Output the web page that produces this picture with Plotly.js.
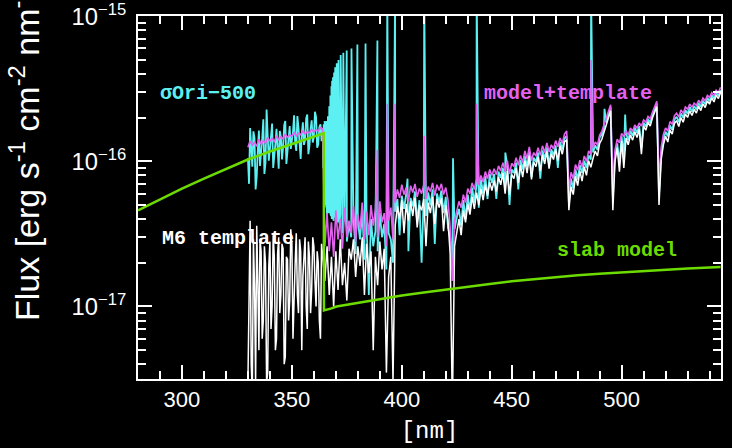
<!DOCTYPE html>
<html>
<head>
<meta charset="utf-8">
<script src="https://cdn.plot.ly/plotly-3.0.1.min.js"></script>
<style>html,body{margin:0;padding:0;background:#000;}#chart{width:732px;height:448px;}</style>
</head>
<body>
<div id="chart"></div>
<script>
// Flux values in units of 1e-17 erg s^-1 cm^-2 nm^-1
const fluxUnit = 1e-17;
// regular wavelength sampling (nm) of the spectra: 330 ... 545
const waveStart = 330;
const waveStep = 1;

// sigma Ori-500 observed spectrum (cyan)
const observed = [
  10.5, 17.0, 9.2, 14.5, 7.8, 16.3, 11.0, 19.5, 9.8, 15.0,
  12.1, 18.2, 10.6, 16.8, 8.9, 14.7, 12.5, 19.0, 11.3, 17.5,
  13.6, 20.8, 11.8, 17.1, 10.4, 18.6, 14.0, 21.0, 12.9, 19.2,
  14.8, 20.2, 13.1, 18.0, 16.5,
  5.0, 4.2, 24.0, 33.0, 3.9, 4.0, 4.0, 4.3, 3.2, 4.0, 2.8, 3.7,
  3.0, 4.2, 2.3, 3.9, 2.9, 4.6, 2.1, 3.6, 1.2, 4.0, 2.6, 3.3, 2.4, 4.4, 3.0, 3.7, 1.8, 3.2, 2.9, 2.0,
  4.5, 5.5, 3.1, 5.8, 4.7, 6.0, 2.4, 5.6, 4.9, 6.2, 3.8, 5.4, 2.0, 5.9, 4.2, 6.1, 5.0, 6.4, 2.7, 6.0, 5.2, 6.3, 4.4, 5.7, 3.5,
  3.0, 1.9, 3.4, 4.1, 4.7, 3.6, 5.4, 4.0, 5.9, 4.5, 6.6, 5.2, 6.9, 4.8, 7.5, 6.0, 7.9, 5.5, 8.2,
  7.1, 8.2, 5.5, 8.5, 7.7, 9.0, 6.6, 9.3, 5.0, 8.8,
  8.3, 9.8, 6.4, 10.2, 8.8, 10.9, 9.2, 11.7, 7.8, 10.6,
  9.9, 11.5, 7.6, 11.9, 10.4, 12.5, 9.4, 12.1, 11.0, 12.9,
  9.0, 13.6, 12.1, 14.4, 15.0,
  5.2, 7.6, 6.5, 8.8, 7.5, 9.4, 8.3, 10.1, 9.0, 11.0, 10.3, 11.5, 12.9, 12.0, 14.6, 15.3, 17.2, 18.6, 21.0, 23.6,
  5.6, 11.2, 13.3, 9.8, 14.9, 10.5, 15.6, 14.0, 16.3, 15.0, 17.1, 15.7, 17.6, 12.4, 18.5, 17.4, 19.6, 18.4, 20.9, 22.5, 25.0,
  5.9, 11.4, 14.1, 16.0, 14.9, 17.7, 16.5, 19.4, 20.3, 18.6, 21.4, 20.0, 22.6, 21.3, 23.7, 22.0, 24.1, 22.8, 25.3, 23.7,
  26.2, 24.8, 27.4, 26.0, 28.6, 27.0, 29.8, 28.3, 31.0
];
// extra observed samples: half-nm noise, Balmer series and emission lines
const observedLineWl = [
  330.5, 331.5, 332.5, 333.5, 334.5, 335.5, 336.5, 337.5, 338.5, 339.5,
  340.5, 341.5, 342.5, 343.5, 344.5, 345.5, 346.5, 347.5, 348.5, 349.5,
  350.5, 351.5, 352.5, 353.5, 354.5, 355.5, 356.5, 357.5, 358.5, 359.5,
  360.5, 361.5, 362.5, 363.5,
  364.3, 364.5, 364.7, 364.9, 365.15, 365.3, 365.45, 365.6, 365.75, 365.9,
  366.1, 366.25, 366.4, 366.55, 366.7, 366.85, 367.15, 367.3, 367.4, 367.5,
  367.6, 367.7, 367.85, 368.15, 368.3, 368.5, 368.7, 368.85, 369.2, 369.45,
  369.7, 370.4, 370.8, 371.2, 371.7, 372.2, 372.8, 373.4, 374.95, 377.1,
  379.8, 383.5, 388.9, 393.4, 396.95, 402.6, 410.2, 423.3, 434.05, 447.1,
  486.1, 492.2, 501.6
];
const observedLineFlux = [
  7.0, 12.8, 16.1, 6.4, 12.0, 9.3, 14.4, 8.2, 22.8, 10.1,
  15.6, 9.0, 13.2, 11.0, 16.2, 10.3, 17.7, 9.6, 14.0, 12.2,
  16.0, 13.4, 20.5, 12.0, 15.5, 13.0, 19.8, 11.2, 16.6, 13.5,
  22.0, 12.4, 17.2, 13.8,
  9.0, 18.0, 6.5, 19.0, 18.5, 5.5, 18.5, 4.8, 19.0, 4.5,
  19.5, 5.0, 20.5, 4.6, 22.0, 4.4, 4.8, 27.0, 4.5, 28.5,
  4.3, 30.0, 4.2, 4.0, 36.0, 4.3, 38.0, 4.0, 41.0, 4.1,
  44.5, 47.5, 3.8, 50.0, 3.7, 54.0, 3.5, 56.0, 58.0, 60.0,
  64.0, 65.0, 68.0, 150, 150, 7.6, 150, 10.5, 150, 11.5,
  150, 23.0, 21.0
];

// model + template (magenta)
const modelTemplate = [
  12.5, 13.8, 12.9, 13.5, 12.7, 14.2, 13.1, 13.9, 13.4, 14.6,
  13.8, 14.4, 13.6, 15.0, 14.1, 14.8, 14.3, 15.4, 14.6, 15.2,
  14.9, 15.8, 15.0, 15.6, 15.3, 16.2, 15.5, 16.0, 15.7, 16.6,
  15.9, 16.5, 16.2, 17.1, 16.8,
  2.6, 4.4, 2.4, 3.8, 2.2, 4.6, 2.9, 4.0, 2.5, 4.8, 3.0, 3.9,
  3.2, 4.9, 2.8, 4.3, 3.4, 5.2, 2.9, 4.5, 3.1, 5.0, 3.6, 4.7, 3.0, 5.3, 3.8, 4.4, 2.6, 3.9, 4.8, 2.9,
  5.2, 6.4, 5.6, 6.9, 5.9, 6.6, 5.3, 6.8, 6.1, 7.0, 5.7, 6.5, 6.0, 6.9, 5.5, 6.7, 6.2, 7.1, 5.8, 6.9, 6.3, 7.0, 5.9, 6.6, 5.4,
  3.5, 1.5, 3.9, 4.6, 5.3, 4.8, 5.9, 5.2, 6.5, 6.0, 7.1, 6.4, 7.6, 6.9, 8.0, 7.2, 8.5, 7.6, 8.8,
  8.0, 8.9, 8.1, 9.3, 8.6, 9.8, 8.5, 10.1, 8.2, 9.7,
  9.2, 10.6, 9.4, 11.0, 9.8, 11.8, 10.4, 12.6, 10.1, 11.5,
  10.9, 12.4, 11.0, 12.8, 11.5, 13.4, 11.6, 13.0, 12.2, 13.9,
  12.6, 14.5, 13.3, 15.4, 16.2,
  6.2, 8.4, 7.6, 9.5, 8.7, 10.2, 9.1, 10.9, 10.0, 11.8, 11.2, 12.3, 13.6, 13.0, 15.2, 16.1, 17.9, 19.5, 21.8, 24.6,
  6.8, 12.0, 14.2, 13.4, 15.6, 14.8, 16.3, 15.2, 17.0, 16.1, 17.8, 16.9, 18.4, 17.5, 19.3, 18.6, 20.4, 19.7, 21.8, 23.5, 26.0,
  7.2, 12.5, 15.4, 17.0, 16.2, 18.8, 18.0, 20.6, 21.5, 20.2, 22.6, 21.4, 23.7, 22.9, 24.8, 23.6, 25.2, 24.3, 26.4, 25.1,
  27.3, 26.2, 28.5, 27.6, 29.8, 28.4, 30.9, 29.7, 32.4
];
const modelLineWl = [388.9, 393.4, 396.95, 410.2, 434.05, 486.1];
const modelLineFlux = [12.0, 25.0, 25.0, 15.0, 25.0, 50.0];

// M6 template (white)
const m6Template = [
  0.3, 3.9, 0.25, 1.4, 3.6, 0.5, 2.4, 0.8, 2.0, 0.35,
  2.8, 1.0, 2.2, 0.6, 3.0, 1.2, 2.5, 0.45, 2.1, 1.1,
  2.7, 1.4, 3.2, 0.9, 2.4, 1.6, 3.0, 0.7, 2.2, 1.3,
  2.6, 1.0, 2.0, 0.6, 2.3,
  1.5, 2.6, 1.2, 2.2, 1.0, 2.4, 1.3, 2.9, 1.4, 2.0, 1.1, 2.5,
  2.1, 2.9, 1.6, 2.6, 1.9, 3.0, 1.2, 2.7, 1.7, 2.4, 0.5, 2.2, 1.4, 2.8, 1.8, 2.5, 0.35, 1.6, 2.2, 0.3,
  3.6, 4.9, 4.0, 5.4, 3.2, 5.1, 3.9, 5.3, 4.2, 5.6, 3.5, 5.0, 4.6, 5.5, 2.6, 5.2, 4.4, 5.7, 3.7, 5.5, 4.8, 5.6, 3.3, 5.0, 3.9,
  2.3, 0.2, 2.6, 3.2, 4.0, 3.1, 4.6, 3.8, 5.1, 4.3, 5.7, 4.7, 6.1, 5.0, 6.5, 5.4, 6.9, 5.8, 7.2,
  6.3, 7.4, 6.2, 7.8, 6.9, 8.3, 6.0, 8.6, 5.9, 8.1,
  7.6, 9.0, 7.1, 9.4, 7.8, 10.1, 8.3, 10.9, 7.5, 9.9,
  9.2, 10.7, 8.6, 11.1, 9.6, 11.7, 8.9, 11.3, 10.3, 12.1,
  10.1, 12.8, 11.2, 13.6, 14.1,
  4.6, 6.7, 5.9, 7.9, 6.8, 8.6, 7.3, 9.2, 8.0, 10.1, 9.1, 10.5, 11.8, 10.9, 13.3, 14.2, 15.8, 17.6, 19.6, 22.3,
  4.6, 10.1, 12.4, 8.5, 13.8, 9.0, 14.5, 13.0, 15.2, 14.0, 16.0, 14.6, 16.6, 11.2, 17.5, 16.4, 18.6, 17.5, 19.9, 21.6, 23.8,
  5.0, 10.3, 13.0, 14.9, 13.6, 16.5, 15.4, 18.2, 19.1, 17.4, 20.0, 18.6, 21.2, 20.1, 22.3, 20.7, 22.8, 21.5, 24.0, 22.4,
  24.9, 23.5, 26.1, 24.8, 27.4, 25.7, 28.5, 27.1, 29.8
];
const m6ExtraWl = [
  330.5, 331.5, 332.5, 333.5, 334.5, 335.5, 336.5, 337.5, 338.5, 339.5,
  340.5, 341.5, 342.5, 343.5, 344.5, 345.5, 346.5, 347.5, 348.5, 349.5,
  350.5, 351.5, 352.5, 353.5, 354.5, 355.5, 356.5, 357.5, 358.5, 359.5,
  360.5, 361.5, 362.5, 363.5, 364.5
];
const m6ExtraFlux = [
  1.8, 0.4, 2.9, 0.3, 1.5, 2.9, 0.6, 2.6, 0.3, 1.9,
  0.7, 3.1, 0.5, 2.3, 0.9, 2.7, 0.4, 2.2, 0.8, 3.4,
  0.6, 2.0, 1.2, 2.9, 0.5, 2.5, 1.0, 2.8, 0.9, 3.0,
  1.5, 2.4, 0.8, 2.7, 1.9
];

// slab model (green)
const slabWl = [280, 290, 300, 310, 320, 330, 340, 350, 360, 364.5, 364.6, 366, 368, 370.3,
  380, 390, 400, 410, 420, 430, 440, 450, 460, 470, 480, 490, 500, 510, 520, 530, 545];
const slabFlux = [4.6, 5.5, 6.5, 7.6, 8.9, 10.3, 11.7, 13.1, 14.8, 15.6, 0.94, 0.95, 0.97, 1.0,
  1.06, 1.12, 1.19, 1.25, 1.31, 1.37, 1.43, 1.49, 1.54, 1.59, 1.64, 1.68, 1.72, 1.76, 1.80, 1.83, 1.87];

const labels = {
  observed: 'σOri−500',
  model: 'model+template',
  template: 'M6 template',
  slab: 'slab model'
};

function buildSeries(gridVals, extraWl, extraVals) {
  const pts = [];
  gridVals.forEach((v, i) => pts.push([waveStart + i * waveStep, v]));
  extraWl.forEach((w, i) => pts.push([w, extraVals[i]]));
  pts.sort((a, b) => a[0] - b[0]);
  return { x: pts.map(p => p[0]), y: pts.map(p => p[1] * fluxUnit) };
}

const obs = buildSeries(observed, observedLineWl, observedLineFlux);
const mod = buildSeries(modelTemplate, modelLineWl, modelLineFlux);
const tpl = buildSeries(m6Template, m6ExtraWl, m6ExtraFlux);

const cCyan = '#5cf0f2', cMag = '#e462f0', cGreen = '#6cdc00', cWhite = '#ffffff';

const traces = [
  { x: obs.x, y: obs.y, mode: 'lines', line: { color: cCyan, width: 1.8 }, name: labels.observed, hoverinfo: 'skip' },
  { x: mod.x, y: mod.y, mode: 'lines', line: { color: cMag, width: 1.6 }, name: labels.model, hoverinfo: 'skip' },
  { x: tpl.x, y: tpl.y, mode: 'lines', line: { color: cWhite, width: 1.5 }, name: labels.template, hoverinfo: 'skip' },
  { x: slabWl, y: slabFlux.map(v => v * fluxUnit), mode: 'lines', line: { color: cGreen, width: 2.5 }, name: labels.slab, hoverinfo: 'skip' }
];

const W = 732, H = 448, L = 138, R = 11, T = 16, B = 69;
const pw = W - L - R, ph = H - T - B;
const px2x = px => (px - L) / pw;
const py2y = py => (H - B - py) / ph;

const monoFont = (c) => ({ family: 'Liberation Mono, Courier New, monospace', size: 20, color: c });

const layout = {
  width: W, height: H,
  margin: { l: L, r: R, t: T, b: B },
  paper_bgcolor: '#000', plot_bgcolor: '#000',
  showlegend: false,
  xaxis: {
    range: [280, 545.2], showgrid: false, zeroline: false,
    showline: true, linecolor: '#fff', linewidth: 2, mirror: 'ticks',
    ticks: 'inside', ticklen: 14, tickwidth: 2, tickcolor: '#fff',
    tick0: 0, dtick: 50,
    minor: { ticks: 'inside', dtick: 10, ticklen: 8, tickwidth: 2, tickcolor: '#fff', showgrid: false },
    tickfont: { family: 'Liberation Sans, Arial, sans-serif', size: 22, color: '#fff' },
    title: { text: '[nm]', font: { family: 'Liberation Mono, Courier New, monospace', size: 24, color: '#fff' }, standoff: 10 }
  },
  yaxis: {
    type: 'log', range: [-17.5, -14.998], showgrid: false, zeroline: false,
    showline: true, linecolor: '#fff', linewidth: 2, mirror: 'ticks',
    ticks: 'inside', ticklen: 14, tickwidth: 2, tickcolor: '#fff',
    tickmode: 'linear', tick0: 0, dtick: 1, exponentformat: 'power',
    minor: { ticks: 'inside', dtick: 'D1', ticklen: 8, tickwidth: 2, tickcolor: '#fff', showgrid: false },
    tickfont: { family: 'Liberation Sans, Arial, sans-serif', size: 19, color: '#fff' },
    ticklabelstandoff: 6, ticklabeloverflow: 'allow'
  },
  annotations: [
    { text: 'Flux [erg s<sup>-1</sup> cm<sup>-2</sup> nm<sup>-1</sup>]', textangle: -90,
      xref: 'paper', yref: 'paper', x: px2x(1), y: py2y(323), xanchor: 'left', yanchor: 'bottom',
      showarrow: false, font: { family: 'Liberation Sans, Arial, sans-serif', size: 34, color: '#fff' } },
    { text: '<b>' + labels.observed + '</b>', xref: 'paper', yref: 'paper', x: px2x(158), y: py2y(94),
      xanchor: 'left', yanchor: 'middle', showarrow: false, font: monoFont(cCyan) },
    { text: '<b>' + labels.model + '</b>', xref: 'paper', yref: 'paper', x: px2x(482), y: py2y(93),
      xanchor: 'left', yanchor: 'middle', showarrow: false, font: monoFont(cMag) },
    { text: '<b>' + labels.template + '</b>', xref: 'paper', yref: 'paper', x: px2x(160), y: py2y(238),
      xanchor: 'left', yanchor: 'middle', showarrow: false, font: monoFont(cWhite) },
    { text: '<b>' + labels.slab + '</b>', xref: 'paper', yref: 'paper', x: px2x(555), y: py2y(250),
      xanchor: 'left', yanchor: 'middle', showarrow: false, font: monoFont(cGreen) }
  ]
};

Plotly.newPlot('chart', traces, layout, { staticPlot: true, displayModeBar: false });
</script>
</body>
</html>
